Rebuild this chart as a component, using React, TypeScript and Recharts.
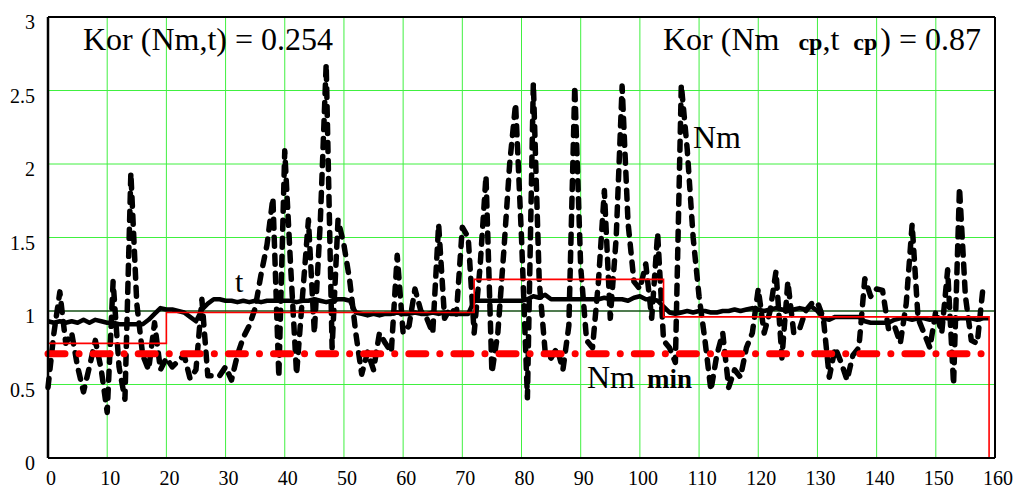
import {CartesianGrid, Line, LineChart, ReferenceLine, XAxis, YAxis} from 'recharts';

// Nm, x = 0..158
const nmValues = [
  0.48, 0.85, 1.13, 0.78, 0.85, 0.62, 0.45, 0.62, 0.8, 0.6,
  0.31, 1.2, 0.62, 0.4, 1.94, 1.05, 0.7, 0.6, 0.92, 0.6,
  0.68, 0.62, 0.66, 0.7, 0.54, 0.6, 1.08, 0.56, 0.56, 0.56,
  0.62, 0.53, 0.7, 0.82, 0.9, 1.02, 1.25, 1.45, 1.77, 0.55,
  2.09, 1.3, 0.57, 1.1, 1.62, 0.85, 1.6, 2.68, 0.75, 1.62,
  1.45, 1.2, 0.85, 0.57, 0.72, 0.6, 0.85, 0.78, 0.72, 1.38,
  0.85, 0.9, 1.15, 1.0, 0.95, 0.85, 1.59, 0.95, 1.02, 0.98,
  1.57, 1.5, 0.85, 1.3, 1.92, 0.58, 0.85, 1.4, 2.0, 2.41,
  1.5, 0.41, 2.55, 1.2, 0.72, 0.68, 0.75, 0.6, 0.9, 2.53,
  1.3, 0.8, 0.75, 1.2, 1.82, 0.95, 1.5, 2.53, 1.6, 1.2,
  1.15, 1.32, 0.95, 1.53, 0.8, 0.75, 0.65, 2.54, 2.1, 1.5,
  1.1, 0.8, 0.46, 0.7, 0.85, 0.48, 0.6, 0.55, 0.75, 0.85,
  1.15, 0.85, 1.0, 1.27, 0.68, 1.2, 0.85, 0.88, 1.0, 1.05,
  1.06, 0.95, 0.55, 0.75, 0.65, 0.53, 0.7, 0.75, 1.22, 1.1,
  1.15, 1.14, 0.88, 0.9, 0.78, 1.05, 1.59, 0.95, 0.85, 0.75,
  1.0, 0.85, 1.28, 0.5, 1.84, 1.1, 0.8, 0.78, 1.17,
];

// t (smoothed), x = 0..159
const tValues = [
  0.93, 0.92, 0.93, 0.92, 0.93, 0.92, 0.94, 0.92, 0.94, 0.93,
  0.92, 0.92, 0.91, 0.91, 0.91, 0.91, 0.91, 0.94, 0.98, 1.02,
  1.01, 1.01, 1.0, 0.99, 0.96, 0.93, 1.01, 1.05, 1.08, 1.08,
  1.07, 1.07, 1.06, 1.07, 1.06, 1.07, 1.06, 1.07, 1.07, 1.07,
  1.07, 1.07, 1.06, 1.07, 1.07, 1.08, 1.07, 1.06, 1.07, 1.08,
  1.08, 1.07, 0.99, 0.98, 0.97, 0.98, 0.97, 0.98, 0.98, 0.99,
  0.98, 0.98, 0.99, 0.98, 0.98, 0.99, 0.98, 0.99, 0.98, 0.98,
  0.98, 0.98, 1.07, 1.07, 1.07, 1.07, 1.07, 1.07, 1.07, 1.07,
  1.07, 1.08, 1.1, 1.09, 1.11, 1.08, 1.08, 1.08, 1.08, 1.08,
  1.08, 1.08, 1.08, 1.08, 1.09, 1.08, 1.08, 1.08, 1.07, 1.09,
  1.1, 1.08, 1.08, 1.07, 1.03, 0.99, 0.98, 0.99, 1.0, 0.99,
  1.0, 1.0, 0.99, 0.99, 1.0, 1.0, 1.01, 1.0, 1.01, 1.02,
  1.01, 1.0, 1.01, 1.02, 1.01, 1.0, 1.01, 1.02, 1.01, 1.03,
  1.0, 0.95, 0.94, 0.96, 0.96, 0.96, 0.96, 0.96, 0.93, 0.92,
  0.92, 0.92, 0.92, 0.94, 0.95, 0.95, 0.94, 0.95, 0.95, 0.94,
  0.95, 0.95, 0.95, 0.94, 0.95, 0.95, 0.95, 0.94, 0.95, 0.95,
];

// Nm cp step (red), step starts
const stepX = [0, 20, 72, 104, 159];
const stepValues = [0.78, 0.99, 1.215, 0.96, 0];

// Nm min level
const nmMinX = [0, 158.5];
const nmMinValue = 0.71;

const xTicks = [0, 10, 20, 30, 40, 50, 60, 70, 80, 90, 100, 110, 120, 130, 140, 150, 160];
const yTicks = [0, 0.5, 1, 1.5, 2, 2.5, 3];

const rows = tValues.map((t, i) => ({x: i, t, nm: nmValues[i]}));
const stepRows = stepX.map((x, i) => ({x, v: stepValues[i]}));
const minRows = nmMinX.map(x => ({x, v: nmMinValue}));

const serif = {fontFamily: "'Liberation Serif', 'Times New Roman', Times, serif"};
const GREEN = '#40f040';

const XTick = ({x, y, payload}: any) => (
  <text x={x + 3} y={y + 27} textAnchor="middle" fontSize={20} style={serif} fill="#000">
    {payload.value}
  </text>
);

const YTick = ({x, y, payload}: any) => (
  <text x={x} y={y + 12} textAnchor="end" fontSize={20} style={serif} fill="#000">
    {payload.value}
  </text>
);

export default function App() {
  return (
    <div style={{position: 'absolute', left: 0, top: 0, width: 1019, height: 490, background: '#fff'}}>
      <LineChart width={1019} height={490} data={rows} margin={{top: 17, right: 24, left: 8, bottom: 2}}>
        <CartesianGrid stroke={GREEN} strokeWidth={1} />
        <XAxis
          dataKey="x"
          type="number"
          domain={[0, 160]}
          ticks={xTicks}
          tick={<XTick />}
          tickLine={false}
          tickSize={0}
          tickMargin={0}
          height={30}
          axisLine={{stroke: '#000', strokeWidth: 2}}
        />
        <YAxis
          type="number"
          domain={[0, 3]}
          ticks={yTicks}
          tick={<YTick />}
          tickLine={false}
          tickSize={0}
          tickMargin={13}
          width={40}
          axisLine={{stroke: '#000', strokeWidth: 2.5}}
        />
        <ReferenceLine y={3} stroke="#000" strokeWidth={2} />
        <ReferenceLine x={160} stroke="#000" strokeWidth={2} />
        <ReferenceLine y={1} stroke="#000" strokeWidth={1.2} />
        <Line
          dataKey="nm"
          type="linear"
          stroke="#000"
          strokeWidth={5.5}
          strokeDasharray="9 9"
          strokeLinecap="round"
          strokeLinejoin="round"
          dot={false}
          activeDot={false}
          isAnimationActive={false}
        />
        <Line
          dataKey="t"
          type="linear"
          stroke="#000"
          strokeWidth={4.5}
          strokeLinejoin="round"
          dot={false}
          activeDot={false}
          isAnimationActive={false}
        />
        <Line
          data={stepRows}
          dataKey="v"
          type="stepAfter"
          stroke="#ff0000"
          strokeWidth={1.6}
          dot={false}
          activeDot={false}
          isAnimationActive={false}
        />
        <Line
          data={minRows}
          dataKey="v"
          type="linear"
          stroke="#ff0000"
          strokeWidth={7}
          strokeDasharray="17 14 0.1 14"
          strokeLinecap="round"
          dot={false}
          activeDot={false}
          isAnimationActive={false}
        />
      </LineChart>
      <svg width={1019} height={490} style={{position: 'absolute', left: 0, top: 0, pointerEvents: 'none', ...serif}}>
        <text x={83} y={50} fontSize={32} fill="#000">Kor (Nm,t) = 0.254</text>
        <text x={663} y={50} fontSize={32} fill="#000">
          Kor (Nm
          <tspan dx={19} fontSize={24} fontWeight="bold">ср</tspan>
          <tspan>,t</tspan>
          <tspan dx={14} fontSize={24} fontWeight="bold">ср</tspan>
          <tspan dx={3}>) = 0.87</tspan>
        </text>
        <text x={235} y={292} fontSize={30} fill="#000">t</text>
        <text x={693} y={148} fontSize={32} fill="#000">Nm</text>
        <text x={587} y={388} fontSize={32} fill="#000">
          Nm
          <tspan dx={12} fontSize={27} fontWeight="bold">min</tspan>
        </text>
      </svg>
    </div>
  );
}
